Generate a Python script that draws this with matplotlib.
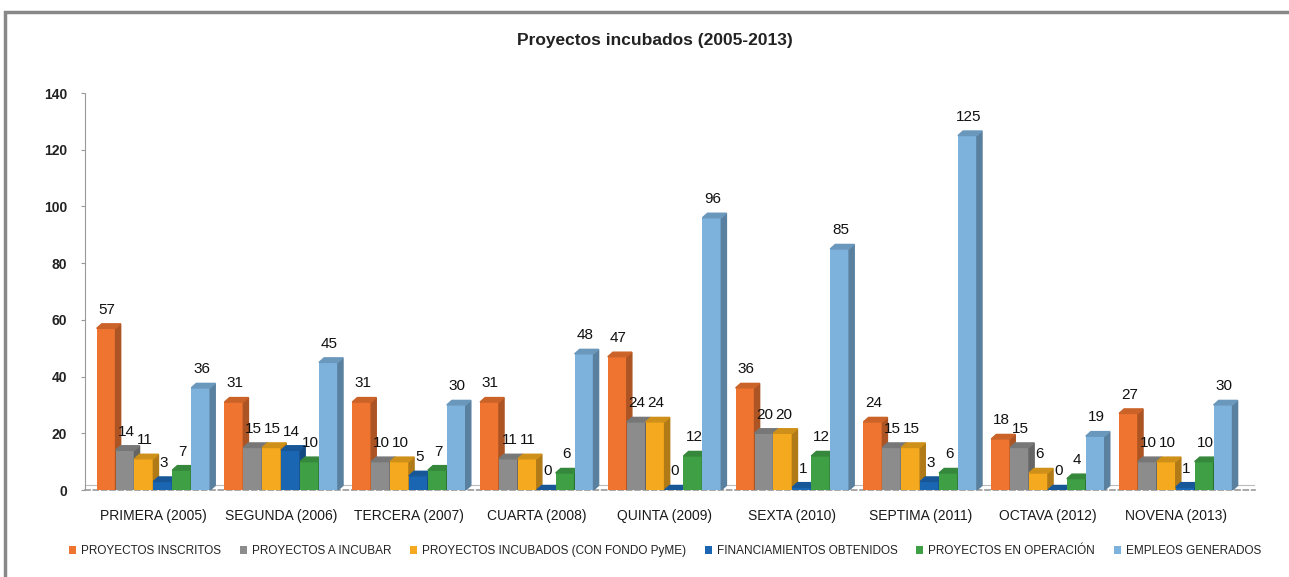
import matplotlib
matplotlib.use('Agg')
import matplotlib.pyplot as plt
from matplotlib.patches import Polygon, Rectangle
from matplotlib.colors import to_rgb
import numpy as np

plt.rcParams['font.family'] = ['Liberation Sans', 'DejaVu Sans']

categories = ["PRIMERA (2005)", "SEGUNDA (2006)", "TERCERA (2007)", "CUARTA (2008)",
              "QUINTA (2009)", "SEXTA (2010)", "SEPTIMA (2011)", "OCTAVA (2012)", "NOVENA (2013)"]
series_names = ["PROYECTOS INSCRITOS", "PROYECTOS A INCUBAR",
                "PROYECTOS INCUBADOS (CON FONDO PyME)", "FINANCIAMIENTOS OBTENIDOS",
                "PROYECTOS EN OPERACIÓN", "EMPLEOS GENERADOS"]
inscritos = [57, 31, 31, 31, 47, 36, 24, 18, 27]
a_incubar = [14, 15, 10, 11, 24, 20, 15, 15, 10]
incubados = [11, 15, 10, 11, 24, 20, 15, 6, 10]
financiamientos = [3, 14, 5, 0, 0, 1, 3, 0, 1]
en_operacion = [7, 10, 7, 6, 12, 12, 6, 4, 10]
empleos = [36, 45, 30, 48, 96, 85, 125, 19, 30]
y_ticks = [0, 20, 40, 60, 80, 100, 120, 140]

series = [inscritos, a_incubar, incubados, financiamientos, en_operacion, empleos]
colors = ['#EF7430', '#8C8C8C', '#F4A91E', '#1B66B3', '#3E9F45', '#7DB2DD']


def shade(c, f):
    r, g, b = to_rgb(c)
    return (r * f, g * f, b * f)


fig = plt.figure(figsize=(12.89, 5.77), dpi=100)
ax = fig.add_axes([85 / 1289, 1 - 490 / 577, (1255 - 85) / 1289, (490 - 93) / 577])

x = np.arange(len(categories))
w = 0.148
d = 0.04      # depth in x (data units)
dy = 1.6      # depth in y (data units)

for k, (vals, col) in enumerate(zip(series, colors)):
    left = x - 3 * w + k * w
    ax.bar(left, vals, width=w, align='edge', color=col, zorder=3 + k, label=series_names[k])
    for xl, v in zip(left, vals):
        side = Polygon([(xl + w, 0), (xl + w + d, dy), (xl + w + d, v + dy), (xl + w, v)],
                       closed=True, color=shade(col, 0.72), zorder=3 + k)
        top = Polygon([(xl, v), (xl + d, v + dy), (xl + w + d, v + dy), (xl + w, v)],
                      closed=True, color=shade(col, 0.85), zorder=3 + k)
        ax.add_patch(side)
        ax.add_patch(top)
        ax.text(xl + w * 0.55, v + dy + 2.5, str(v), ha='center', va='bottom',
                fontsize=11, color='#111111', zorder=20)

ax.set_xlim(-0.535, 8.62)
ax.set_ylim(0, 140)
ax.set_yticks(y_ticks)
ax.set_yticklabels([str(t) for t in y_ticks], fontsize=10, fontweight='bold', color='#222222')
ax.set_xticks(x)
ax.set_xticklabels(categories, fontsize=10, color='#1a1a1a')
ax.tick_params(axis='x', length=0, pad=14)
ax.tick_params(axis='y', length=3, color='#999999', pad=10)

for s in ['top', 'right']:
    ax.spines[s].set_visible(False)
ax.spines['left'].set_color('#999999')
ax.spines['left'].set_linestyle((0, (1, 1)))
ax.spines['bottom'].set_color('#999999')
ax.spines['bottom'].set_linestyle((0, (3, 2)))
ax.spines['bottom'].set_linewidth(1.2)
ax.axhline(dy, color='#bbbbbb', lw=0.8, zorder=1)

fig.text(655 / 1289, 1 - 40 / 577, "Proyectos incubados (2005-2013)", ha='center', va='center',
         fontsize=12.5, fontweight='bold', color='#222222')

handles, labels = ax.get_legend_handles_labels()
leg = fig.legend(handles, labels, loc='center', bbox_to_anchor=(665 / 1289, 1 - 551 / 577),
                 ncol=6, frameon=False, fontsize=8.5, handlelength=0.6, handleheight=0.6,
                 handletextpad=0.4, columnspacing=1.6)
for t in leg.get_texts():
    t.set_color('#222222')

# chart frame
fig.patches.append(Rectangle((5 / 1289, -0.02), 1.1, 1 - 12 / 577 + 0.02, transform=fig.transFigure,
                             fill=False, edgecolor='#888888', lw=2.5, zorder=0))

fig.savefig('out.png', dpi=100)
